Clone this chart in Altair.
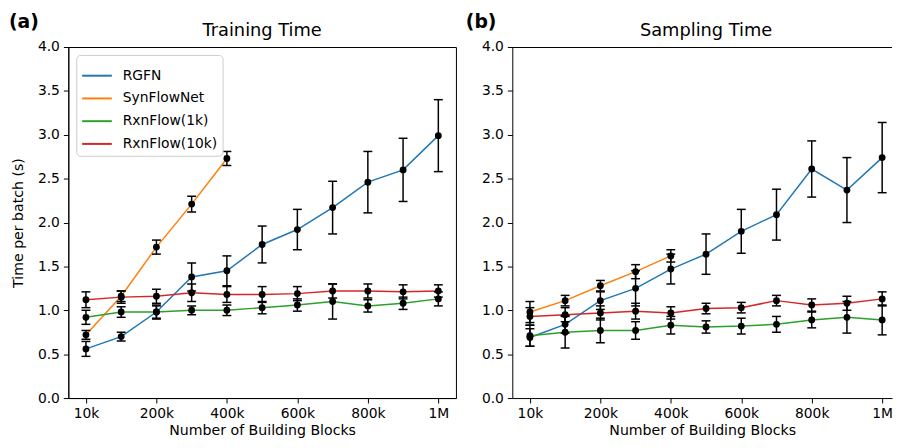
import altair as alt
import pandas as pd

x_labels = ["10k", "100k", "200k", "300k", "400k", "500k", "600k", "700k", "800k", "900k", "1M"]
methods = ["RGFN", "SynFlowNet", "RxnFlow(1k)", "RxnFlow(10k)"]
colors = ["#1f77b4", "#ff7f0e", "#2ca02c", "#d62728"]

# Training time (s) per batch, with error bar half-widths
rgfn_train = [0.56, 0.70, 0.98, 1.38, 1.45, 1.75, 1.92, 2.17, 2.46, 2.60, 2.99]
rgfn_train_err = [0.085, 0.05, 0.07, 0.16, 0.17, 0.21, 0.23, 0.30, 0.35, 0.36, 0.41]
synflow_train = [0.72, 1.16, 1.72, 2.21, 2.73]
synflow_train_err = [0.05, 0.06, 0.08, 0.09, 0.08]
rxn1k_train = [0.92, 0.98, 0.98, 1.00, 1.00, 1.03, 1.06, 1.10, 1.05, 1.08, 1.13]
rxn1k_train_err = [0.08, 0.06, 0.08, 0.05, 0.06, 0.07, 0.07, 0.20, 0.07, 0.07, 0.08]
rxn10k_train = [1.12, 1.15, 1.16, 1.20, 1.18, 1.18, 1.19, 1.22, 1.22, 1.21, 1.22]
rxn10k_train_err = [0.09, 0.07, 0.08, 0.10, 0.09, 0.09, 0.08, 0.08, 0.08, 0.08, 0.07]

# Sampling time (s) per batch
rgfn_samp = [0.69, 0.84, 1.11, 1.25, 1.47, 1.64, 1.90, 2.09, 2.61, 2.37, 2.74]
rgfn_samp_err = [0.10, 0.10, 0.10, 0.20, 0.17, 0.23, 0.25, 0.29, 0.32, 0.37, 0.40]
synflow_samp = [0.98, 1.11, 1.28, 1.44, 1.62]
synflow_samp_err = [0.12, 0.06, 0.06, 0.08, 0.07]
rxn1k_samp = [0.71, 0.75, 0.77, 0.77, 0.83, 0.81, 0.82, 0.84, 0.89, 0.92, 0.89]
rxn1k_samp_err = [0.12, 0.18, 0.14, 0.10, 0.10, 0.07, 0.09, 0.09, 0.09, 0.18, 0.17]
rxn10k_samp = [0.93, 0.95, 0.97, 0.99, 0.97, 1.02, 1.03, 1.11, 1.06, 1.08, 1.13]
rxn10k_samp_err = [0.10, 0.08, 0.08, 0.09, 0.07, 0.06, 0.06, 0.06, 0.07, 0.08, 0.08]

panel_titles = ["Training Time", "Sampling Time"]
panel_tags = ["(a)", "(b)"]
x_title = "Number of Building Blocks"
y_title = "Time per batch (s)"


def make_df(series):
    rows = []
    for m, (vals, errs) in zip(methods, series):
        for i, (v, e) in enumerate(zip(vals, errs)):
            rows.append(dict(method=m, idx=i, t=v, lo=v - e, hi=v + e))
    return pd.DataFrame(rows)


train_df = make_df([(rgfn_train, rgfn_train_err), (synflow_train, synflow_train_err),
                    (rxn1k_train, rxn1k_train_err), (rxn10k_train, rxn10k_train_err)])
samp_df = make_df([(rgfn_samp, rgfn_samp_err), (synflow_samp, synflow_samp_err),
                   (rxn1k_samp, rxn1k_samp_err), (rxn10k_samp, rxn10k_samp_err)])

label_expr = "[" + ",".join("'%s'" % s for s in x_labels) + "][datum.value]"


def panel(df, title, tag, first, width, xmax):
    xaxis = alt.Axis(values=[0, 2, 4, 6, 8, 10], labelExpr=label_expr, title=x_title, grid=False)
    if first:
        yaxis = alt.Axis(values=[0, 0.5, 1, 1.5, 2, 2.5, 3, 3.5, 4], format=".1f", title=y_title, grid=False)
    else:
        yaxis = alt.Axis(values=[0, 0.5, 1, 1.5, 2, 2.5, 3, 3.5, 4], format=".1f", title=None, grid=False)
    xs = alt.Scale(domain=[-0.5, xmax], nice=False, zero=False)
    ys = alt.Scale(domain=[0, 4], nice=False)

    def X():
        return alt.X("idx:Q", scale=xs, axis=xaxis)

    def Y(f):
        return alt.Y(f + ":Q", scale=ys, axis=yaxis)

    base = alt.Chart(df)
    if first:
        legend = alt.Legend(title=None, orient="top-left", offset=8)
        color = alt.Color("method:N", scale=alt.Scale(domain=methods, range=colors), legend=legend)
    else:
        color = alt.Color("method:N", scale=alt.Scale(domain=methods, range=colors), legend=None)
    lines = base.mark_line(strokeWidth=1.5).encode(x=X(), y=Y("t"), color=color)
    bars = base.mark_rule(color="black", strokeWidth=1.5).encode(x=X(), y=Y("lo"), y2="hi:Q")
    cap_lo = base.mark_tick(color="black", orient="horizontal", size=9, thickness=1.5, opacity=1).encode(x=X(), y=Y("lo"))
    cap_hi = base.mark_tick(color="black", orient="horizontal", size=9, thickness=1.5, opacity=1).encode(x=X(), y=Y("hi"))
    pts = base.mark_circle(color="black", size=48, opacity=1).encode(x=X(), y=Y("t"))
    tag_df = pd.DataFrame({"tag": [tag], "title": [title]})
    tag_text = alt.Chart(tag_df).mark_text(align="left", baseline="middle", fontSize=19, fontWeight="bold",
                                             font="DejaVu Sans", color="black").encode(
        x=alt.value(-60 if first else -47), y=alt.value(-25), text="tag:N")
    title_text = alt.Chart(tag_df).mark_text(align="center", baseline="middle", fontSize=18,
                                               font="DejaVu Sans", color="black").encode(
        x=alt.value(196), y=alt.value(-16), text="title:N")
    layers = [lines, bars, cap_lo, cap_hi, pts, tag_text, title_text]
    props = dict(width=width, height=355)
    if not first:
        top = alt.Chart(pd.DataFrame({"a": [0]})).mark_rule(color="black", strokeWidth=1).encode(
            x=alt.value(0), x2=alt.value(width), y=alt.value(0.5))
        layers.append(top)
        props["view"] = alt.ViewBackground(stroke="transparent")
    return alt.layer(*layers).properties(**props)


left = panel(train_df, panel_titles[0], panel_tags[0], True, 392, 10.5)
right = panel(samp_df, panel_titles[1], panel_tags[1], False, 384, 10.28)

chart = alt.hconcat(left, right, spacing=8).resolve_scale(x="independent").resolve_legend(
    color="independent").properties(
    padding={"left": 0, "top": 2, "right": 0, "bottom": 2}
).configure_view(stroke="black", strokeWidth=1).configure_axis(
    domainColor="black", tickColor="black", tickSize=5, labelColor="black", titleColor="black",
    labelFontSize=14, titleFontSize=14.3, labelFont="DejaVu Sans", titleFont="DejaVu Sans",
    titleFontWeight="normal", labelPadding=4, domainWidth=1, tickWidth=1
).configure_axisX(titlePadding=3).configure_axisY(titlePadding=12).configure_legend(
    strokeColor="#cccccc", fillColor="white", padding=5, cornerRadius=4, labelFontSize=14,
    labelFont="DejaVu Sans", labelColor="black", symbolType="stroke", symbolSize=900,
    symbolStrokeWidth=2, rowPadding=-7, labelOffset=10
)

chart.save("out.html", embed_options={"renderer": "svg", "actions": False})
